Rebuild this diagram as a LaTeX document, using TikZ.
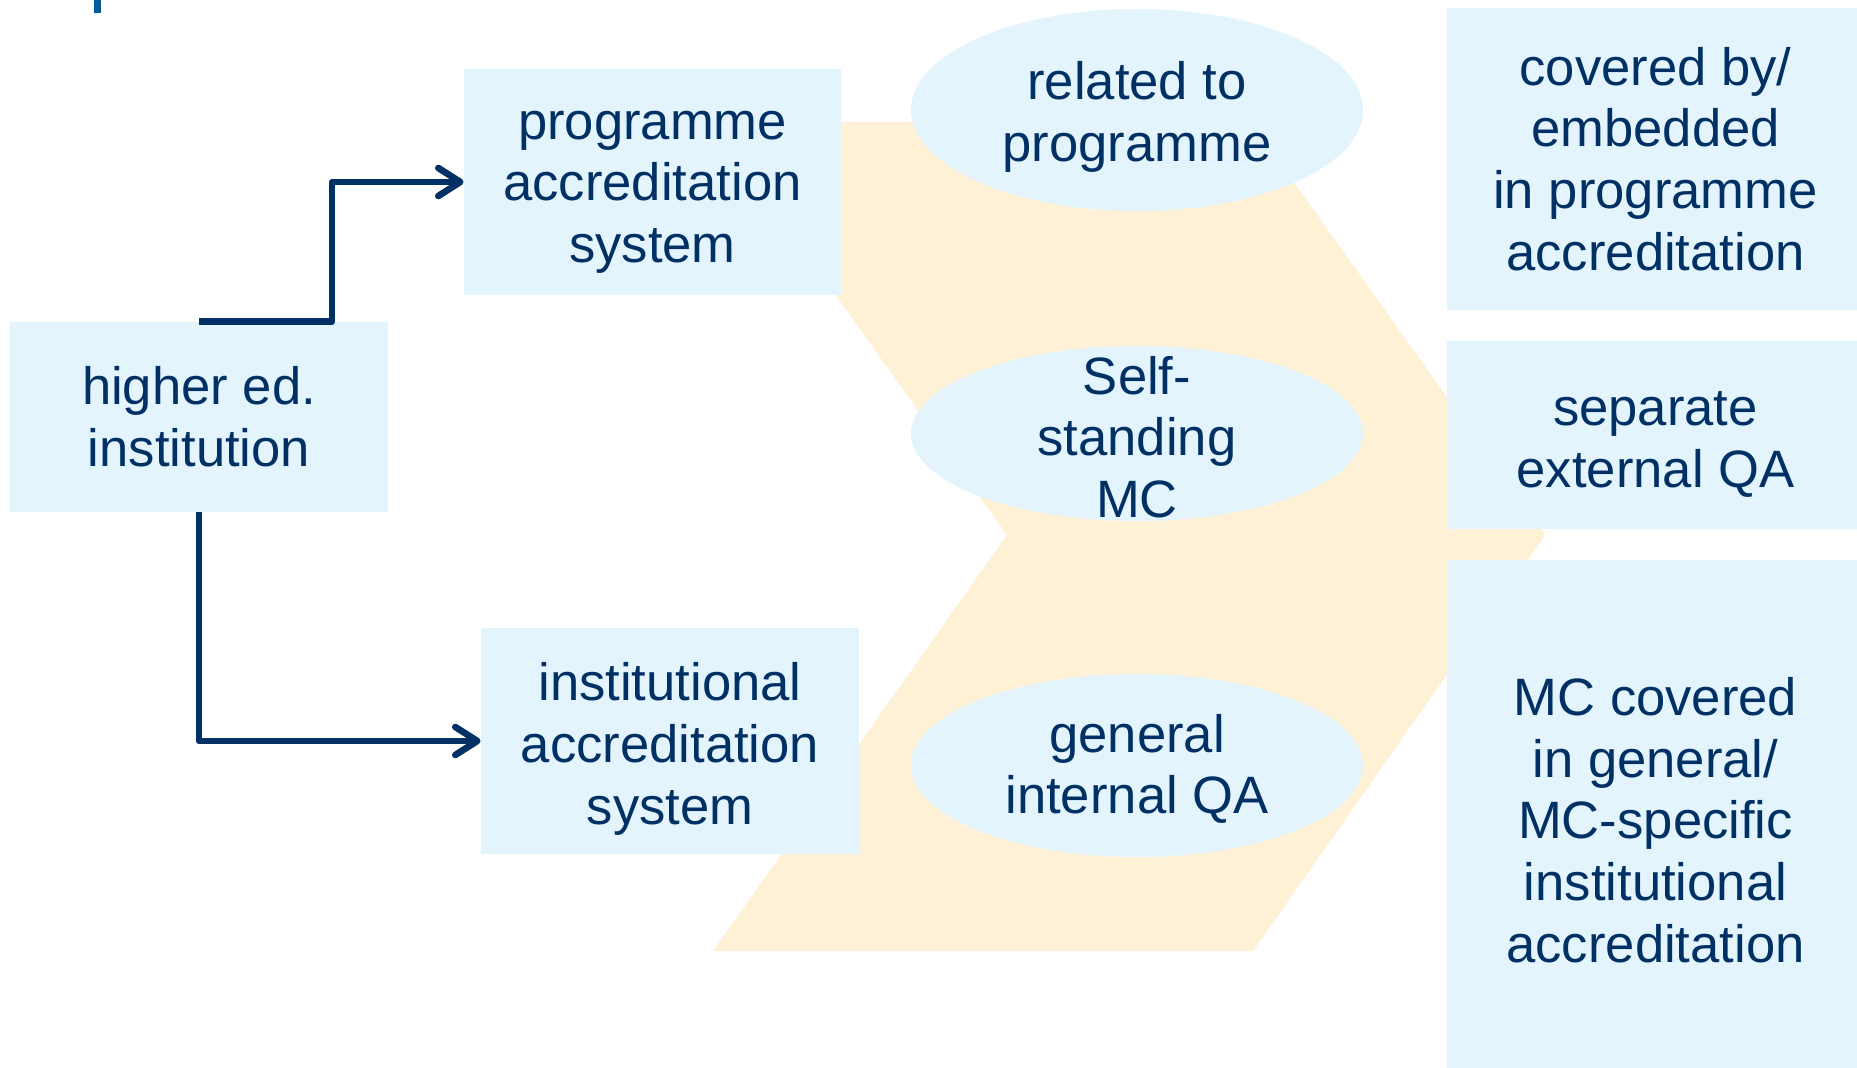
\documentclass[tikz,border=0pt]{standalone}
\usepackage{fontspec}
\setmainfont{Liberation Sans}
\usetikzlibrary{shapes.geometric,arrows.meta}
\definecolor{navy}{RGB}{0,48,100}
\definecolor{boxblue}{RGB}{227,244,253}
\definecolor{chevron}{RGB}{254,241,214}
\definecolor{titleblue}{RGB}{0,90,156}
\tikzset{
  box/.style={rectangle, fill=boxblue, inner sep=0pt},
  oval/.style={ellipse, fill=boxblue, inner sep=0pt},
  txt/.style={text=navy, align=center, inner sep=0pt, font=\fontsize{26.3}{30.8}\selectfont},
  arr/.style={draw=navy, line width=3.3pt, line join=round, -{Straight Barb[length=11pt,width=14pt,round]}}
}
\begin{document}
\begin{tikzpicture}[x=0.5pt,y=-0.5pt]
\clip (0,0) rectangle (1857,1068);
\fill[white] (0,0) rectangle (1857,1068);
\fill[titleblue] (94,0) rectangle (101,13);
% background chevron
\fill[chevron] (712,122) -- (1251,122) -- (1545,535) -- (1253,951) -- (713,951) -- (1007,535) -- cycle;
% left column
\node[box, minimum width=189pt, minimum height=95pt] (hei) at (199,417) {};
\node[txt] (heitxt) at (199,417) {higher ed.\\institution};
\node[box, minimum width=188.5pt, minimum height=113pt] (prog) at (652.5,182) {};
\node[txt] (progtxt) at (652.5,192) {programme\\accreditation\\system};
\node[box, minimum width=189pt, minimum height=113pt] (inst) at (670,741) {};
\node[txt] (insttxt) at (670,749) {institutional\\accreditation\\system};
\draw[arr] (hei.north) -- ++(133,0) |- (prog.west);
\draw[arr] (hei.south) |- (inst.west);
% middle ellipses
\node[oval, minimum width=226pt, minimum height=101pt] (relell) at (1137,110) {};
\node[txt] (reltxt) at (1137,117) {related to\\programme};
\node[oval, minimum width=226pt, minimum height=87.5pt] (selfell) at (1137,433.5) {};
\node[txt] (selftxt) at (1137,437) {Self-\\standing\\MC};
\node[oval, minimum width=226pt, minimum height=91.5pt] (genell) at (1137,765.5) {};
\node[txt] (gentxt) at (1137,769) {general\\internal QA};
% right column
\node[box, minimum width=205pt, minimum height=151pt] (covered) at (1652,159) {};
\node[txt] (coveredtxt) at (1655.5,159) {covered by/\\embedded\\in programme\\accreditation};
\node[box, minimum width=205pt, minimum height=94pt] (separate) at (1652,435) {};
\node[txt] (separatetxt) at (1655.5,444.5) {separate\\external QA};
\node[box, minimum width=205pt, minimum height=260pt] (mccovered) at (1652,820) {};
\node[txt] (mccoveredtxt) at (1655.5,820) {MC covered\\in general/\\MC-specific\\institutional\\accreditation};
\end{tikzpicture}
\end{document}
